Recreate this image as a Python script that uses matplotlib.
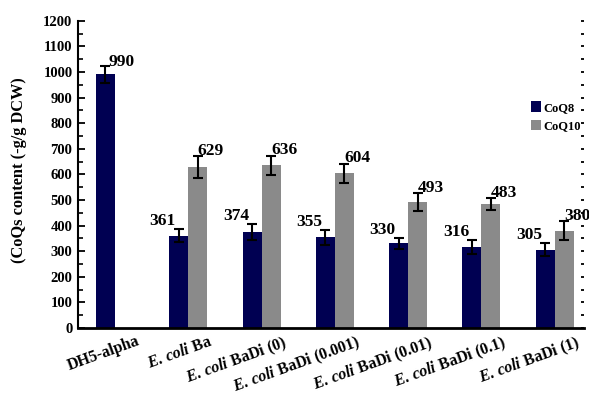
import numpy as np
import matplotlib
matplotlib.use("Agg")
import matplotlib.pyplot as plt
from matplotlib.transforms import ScaledTranslation
from matplotlib.ticker import MultipleLocator
from matplotlib.patches import Patch

# ---- data ----
groups = ["DH5-alpha", r"$\mathit{E.\,coli}$ Ba", r"$\mathit{E.\,coli}$ BaDi (0)",
          r"$\mathit{E.\,coli}$ BaDi (0.001)", r"$\mathit{E.\,coli}$ BaDi (0.01)",
          r"$\mathit{E.\,coli}$ BaDi (0.1)", r"$\mathit{E.\,coli}$ BaDi (1)"]
coq8 = [990, 361, 374, 355, 330, 316, 305]
coq8_err = [33, 27, 31, 29, 23, 27, 25]
coq10 = [np.nan, 629, 636, 604, 493, 483, 380]
coq10_err = [np.nan, 42, 37, 38, 35, 24, 36]
series_names = ["CoQ8", "CoQ10"]
ylabel = "(CoQs content (-g/g DCW)"

plt.rcParams["font.family"] = "Liberation Serif"
plt.rcParams["font.weight"] = "bold"
plt.rcParams["mathtext.fontset"] = "custom"
plt.rcParams["mathtext.rm"] = "Liberation Serif:bold"
plt.rcParams["mathtext.it"] = "Liberation Serif:italic:bold"

navy = "#000052"
grey = "#8a8a8a"

W, H = 589, 397
fig = plt.figure(figsize=(W / 100, H / 100), dpi=100)
ax = fig.add_axes([78 / W, 1 - 328 / H, (584 - 78) / W, (328 - 20.7) / H])

x = np.arange(len(groups))
w = 0.26
ax.bar(x - w / 2, coq8, w, color=navy, zorder=2)
ax.bar(x + w / 2, coq10, w, color=grey, zorder=2)
ax.errorbar(x - w / 2, coq8, yerr=coq8_err, fmt="none", ecolor="black",
            elinewidth=1.5, capsize=3.5, capthick=1.5, zorder=3)
ax.errorbar(x + w / 2, coq10, yerr=coq10_err, fmt="none", ecolor="black",
            elinewidth=1.5, capsize=3.5, capthick=1.5, zorder=3)

# value labels
for i in range(len(groups)):
    if np.isnan(coq10[i]):
        ax.annotate(f"{coq8[i]:d}", (x[i] - w / 2, coq8[i] + coq8_err[i]),
                    xytext=(2.5, -3), textcoords="offset points",
                    ha="left", va="bottom", fontsize=12.5, fontweight="bold")
    else:
        ax.annotate(f"{coq8[i]:d}", (x[i] - w / 2, coq8[i] + coq8_err[i]),
                    xytext=(-2, 0), textcoords="offset points",
                    ha="right", va="bottom", fontsize=12.5, fontweight="bold")
        ax.annotate(f"{int(coq10[i]):d}", (x[i] + w / 2, coq10[i] + coq10_err[i]),
                    xytext=(0, -2), textcoords="offset points",
                    ha="left", va="bottom", fontsize=12.5, fontweight="bold",
                    annotation_clip=False)

ax.set_xlim(-0.505, 6.4)
ax.set_ylim(0, 1200)
ax.yaxis.set_major_locator(MultipleLocator(100))
ax.yaxis.set_minor_locator(MultipleLocator(50))
ax.tick_params(axis="y", which="major", direction="in", length=5, width=1.3,
               labelsize=10.5, pad=4)
ax.tick_params(axis="y", which="minor", direction="in", length=3.5, width=1.2)
for t in ax.get_yticklabels():
    t.set_fontweight("bold")

ax.set_xticks(x)
ax.set_xticklabels(groups, rotation=20, rotation_mode="anchor", ha="right",
                   va="top", fontsize=11.5, fontweight="bold")
ax.tick_params(axis="x", length=0, pad=4)
for t in ax.get_xticklabels():
    t.set_transform(t.get_transform() + ScaledTranslation(0.21, 0, fig.dpi_scale_trans))

for s in ["top", "right"]:
    ax.spines[s].set_visible(False)
ax.spines["left"].set_linewidth(1.5)
ax.spines["bottom"].set_linewidth(2)

# dotted tick column on the right side
ax2 = ax.twinx()
ax2.set_ylim(0, 1200)
ax2.yaxis.set_major_locator(MultipleLocator(50))
ax2.tick_params(axis="y", direction="in", length=2.5, width=1.3, labelright=False)
for s in ax2.spines.values():
    s.set_visible(False)

fig.text(19 / W, 1 - 170 / H, ylabel, rotation=90, ha="center", va="center",
         fontsize=11.8, fontweight="bold")

handles = [Patch(facecolor=navy), Patch(facecolor=grey)]
fig.legend(handles, series_names, loc="upper left",
           bbox_to_anchor=(525 / W, 1 - 95 / H), frameon=False,
           prop={"family": "Liberation Serif", "weight": "bold", "size": 9},
           handlelength=0.8, handleheight=0.9, handletextpad=0.15,
           labelspacing=0.5, borderpad=0)

fig.savefig("out.png", dpi=100)
